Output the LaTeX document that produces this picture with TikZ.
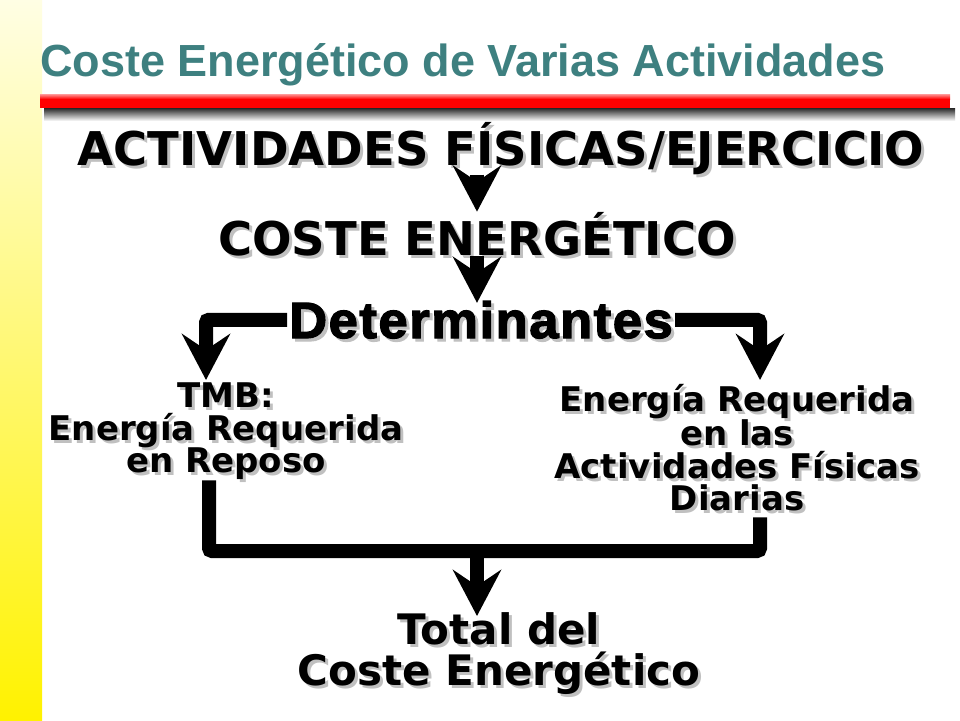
\documentclass[tikz,border=0pt]{standalone}
\usepackage{fontspec}
\usepackage{graphicx}
\setmainfont{DejaVu Sans}
\newfontfamily\titlefont{Liberation Sans}
\newfontfamily\detfont{Liberation Sans Bold}[FakeBold=2.5, LetterSpace=3]
\usetikzlibrary{arrows.meta,calc}

\definecolor{titleteal}{RGB}{62,128,128}
\definecolor{yelltop}{RGB}{255,254,228}
\definecolor{yellbot}{RGB}{255,242,0}
\definecolor{barred}{RGB}{255,0,0}
\definecolor{shadowgray}{RGB}{192,192,192}

\newcommand{\widebold}[1]{\scalebox{1.05}[1.02]{#1}}

\tikzset{
  headtxt/.style={font=\bfseries\fontsize{46.5}{46.5}\selectfont, inner sep=0pt, anchor=base},
  dettxt/.style={font=\detfont\fontsize{50}{50}\selectfont, inner sep=2pt, anchor=base},
  blocktxt/.style={font=\bfseries\fontsize{34}{32.5}\selectfont, align=center, inner sep=0pt, anchor=north},
  totaltxt/.style={font=\bfseries\fontsize{42}{41}\selectfont, align=center, inner sep=0pt, anchor=north},
  fat/.style={line width=14pt, rounded corners=3pt},
  fatarrow/.style={fat, -{Stealth[length=46pt, width=48pt, inset=16pt]}},
}

% text with a soft gray drop shadow
\newcommand{\shnode}[4]{%
  \node[#2, text=shadowgray] (#1sh) at ($#3+(3,3)$) {#4};
  \node[#2] (#1) at #3 {#4};}

\begin{document}
\begin{tikzpicture}[x=1pt,y=-1pt]
\useasboundingbox (0,0) rectangle (960,720);
\fill[white] (0,0) rectangle (960,720);

% left band and title bar
\shade[top color=yelltop, bottom color=yellbot] (0,0) rectangle (42,720);
\node[font=\titlefont\bfseries\fontsize{45}{45}\selectfont, text=titleteal, anchor=base west, inner sep=0pt] (title) at (40,76) {Coste Energético de Varias Actividades};
\shade[top color=black!85, bottom color=white] (44,108) rectangle (955,121);
\fill[barred] (40,94) rectangle (950,108);
\shade[top color=red!40, bottom color=barred] (40,94) rectangle (950,99);

% texts
\shnode{act}{headtxt}{(501,165)}{ACTIVIDADES FÍSICAS/EJERCICIO}
\shnode{coste}{headtxt}{(477,255)}{COSTE ENERGÉTICO}
\shnode{det}{dettxt}{(481,338)}{\widebold{Determinantes}}
\shnode{tmb}{blocktxt}{(226,383)}{TMB:\\Energía Requerida\\en Reposo}
\shnode{diar}{blocktxt}{(737,384)}{Energía Requerida\\en las\\Actividades Físicas\\Diarias}
\shnode{total}{totaltxt}{(499,612)}{Total del\\Coste Energético}

% connectors
\coordinate (ltip) at (206,380);
\coordinate (rtip) at (760,380);
\coordinate (jl) at (209,551);
\coordinate (jr) at (760,551);
\coordinate (jm) at (477,551);

\draw[fatarrow] (act.south -| coste) -- (coste.north);
\draw[fatarrow, shorten >=-4pt] (coste.south) -- (coste.south |- det.north);
\draw[fatarrow] (det.west) -| (ltip);
\draw[fatarrow] (det.east) -| (rtip);
\draw[fat, shorten >=6pt] (tmb.south -| jl) -- (jl) -- (jr) -- (diar.south -| jr);
\draw[fatarrow, shorten >=-4pt] (jm) -- (jm |- total.north);

\end{tikzpicture}
\end{document}
